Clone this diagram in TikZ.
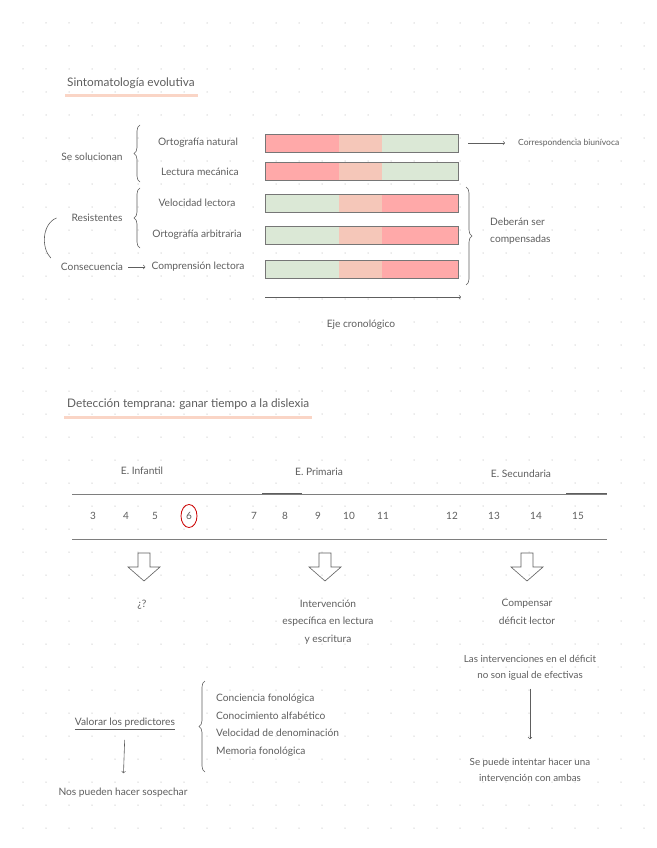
\documentclass[tikz,border=0pt]{standalone}
\usepackage{fontspec}
\setmainfont{Lato}
\usetikzlibrary{decorations.pathreplacing}

\definecolor{tinta}{HTML}{5E5E5E}
\definecolor{rojo}{HTML}{FFA9A9}
\definecolor{salmon}{HTML}{F5C7B9}
\definecolor{verde}{HTML}{DBE8D6}
\definecolor{subr}{HTML}{FAD5C6}
\definecolor{punto}{HTML}{D6D6D6}

\tikzset{
  txt/.style={text=tinta, font=\fontsize{10.2}{17.5}\selectfont, inner sep=1pt},
  chico/.style={text=tinta, font=\fontsize{8.5}{16}\selectfont, inner sep=1pt},
  medio/.style={text=tinta, font=\fontsize{9.8}{16}\selectfont, inner sep=1pt},
  titulo/.style={text=tinta, font=\fontsize{11.8}{13}\selectfont, anchor=west, inner sep=1pt},
  num/.style={text=tinta, font=\fontsize{10}{12}\selectfont, inner sep=1pt},
  barra/.style={draw=tinta!85, line width=0.8pt, minimum width=193pt, minimum height=18pt, inner sep=0pt},
  llave/.style={draw=tinta, line width=0.6pt, decorate, decoration={brace, amplitude=6pt}},
  linea/.style={draw=tinta, line width=0.6pt},
  subraya/.style={draw=subr, line width=2.5pt},
}

\begin{document}
\begin{tikzpicture}[x=1pt,y=-1pt]
\useasboundingbox[fill=white] (0,0) rectangle (656,848);
% fondo de puntos
\foreach \i in {1,...,28}
  \foreach \j in {1,...,36}
    \fill[punto] (23*\i,23*\j) circle (0.75pt);

% --- Sintomatologia evolutiva ---
\node[titulo] (tit1) at (66,83) {Sintomatología evolutiva};
\draw[subraya] ([shift={(-1pt,-6pt)}]tit1.south west) -- ([shift={(2pt,-6pt)}]tit1.south east);

\foreach \n/\y/\ca/\cb in {1/143/rojo/verde, 2/171.5/rojo/verde, 3/203.5/verde/rojo, 4/235.5/verde/rojo, 5/269/verde/rojo} {
  \fill[\ca] (265,\y-9) rectangle (339,\y+9);
  \fill[salmon] (339,\y-9) rectangle (382,\y+9);
  \fill[\cb] (382,\y-9) rectangle (458,\y+9);
  \node[barra] (b\n) at (361.5,\y) {};
}

\node[txt] (ortn) at (198,143) {Ortografía natural};
\node[txt] (lect) at (200,172) {Lectura mecánica};
\node[txt] (velo) at (197,203) {Velocidad lectora};
\node[txt] (orta) at (197,235) {Ortografía arbitraria};
\node[txt] (comp) at (198,267) {Comprensión lectora};
\node[txt] (soluc) at (92,157) {Se solucionan};
\node[txt] (resis) at (97,218) {Resistentes};
\node[txt] (conse) at (92,267) {Consecuencia};

\draw[llave] (140,182) -- (140,125);
\draw[llave] (140,248) -- (140,188);
\draw[linea,->,shorten <=4pt,shorten >=5pt] (conse) -- (comp);
\draw[linea] ([xshift=-14pt]resis.west) .. controls (42,224) and (41,248) .. ([shift={(-9pt,9pt)}]conse.west);

\node[chico, anchor=west] (corr) at (517,143) {Correspondencia biunívoca};
\draw[linea,->,shorten <=10pt,shorten >=12pt] (b1.east) -- (corr.west);

\draw[llave] (466,187) -- (466,285);
\node[txt, align=left, anchor=west] (deb) at (489,231) {Deberán ser\\compensadas};

\coordinate (eje0) at (265,297);
\coordinate (eje1) at (461,297);
\draw[linea,->] (eje0) -- (eje1);
\node[txt] (eje) at (361,325) {Eje cronológico};

% --- Deteccion temprana ---
\node[titulo] (tit2) at (66,404) {Detección temprana: ganar tiempo a la dislexia};
\draw[subraya] ([shift={(-2pt,-7pt)}]tit2.south west) -- ([shift={(2pt,-7pt)}]tit2.south east);

\node[txt] (inf) at (142,471) {E. Infantil};
\node[txt] (prim) at (319,472) {E. Primaria};
\node[txt] (sec) at (521,474) {E. Secundaria};

\coordinate (lA) at (72,494);
\coordinate (lB) at (607,494);
\coordinate (lC) at (72,539);
\coordinate (lD) at (607,539);
\draw[tinta!80, line width=0.9pt] (lA) -- (lB);
\draw[tinta!80, line width=0.9pt] (lC) -- (lD);
\draw[tinta, line width=1.3pt] (262,493.5) -- (302,493.5);
\draw[tinta, line width=1.3pt] (566,493.5) -- (607,493.5);

\foreach \n/\x in {3/93,4/126,5/155,6/189,7/254,8/285,9/318,10/349,11/383,12/452,13/494,14/536,15/578}
  \node[num] (n\n) at (\x,516) {\n};
\draw[red!80!black, line width=0.8pt] (n6) ellipse [x radius=8pt, y radius=11.5pt];

\foreach \x in {144,325,527}
  \draw[linea] (\x-6,553) -- (\x+6,553) -- (\x+6,567) -- (\x+16,567) -- (\x,581)
    -- (\x-16,567) -- (\x-6,567) -- cycle;

\node[txt] (inc) at (142,605) {¿?};
\node[txt, align=center] (interv) at (328,622) {Intervención\\específica en lectura\\y escritura};
\node[txt, align=center] (compen) at (527,612) {Compensar\\déficit lector};

\node[medio, align=center] (noigual) at (530,668) {Las intervenciones en el déficit\\no son igual de efectivas};
\node[medio, align=center] (ambas) at (530,770) {Se puede intentar hacer una\\intervención con ambas};
\draw[linea,->,shorten <=7pt,shorten >=18pt] (noigual.south) -- (ambas.north);

\node[txt] (valor) at (125,724) {\underline{Valorar los predictores}};
\node[txt] (sosp) at (123,793) {Nos pueden hacer sospechar};
\draw[linea,->,shorten <=9pt,shorten >=14pt] (valor.south) -- (sosp.north);

\draw[llave] (205,772) -- (205,681);
\node[txt, align=left, anchor=west] (pred) at (215,725) {Conciencia fonológica\\Conocimiento alfabético\\Velocidad de denominación\\Memoria fonológica};
\end{tikzpicture}
\end{document}
